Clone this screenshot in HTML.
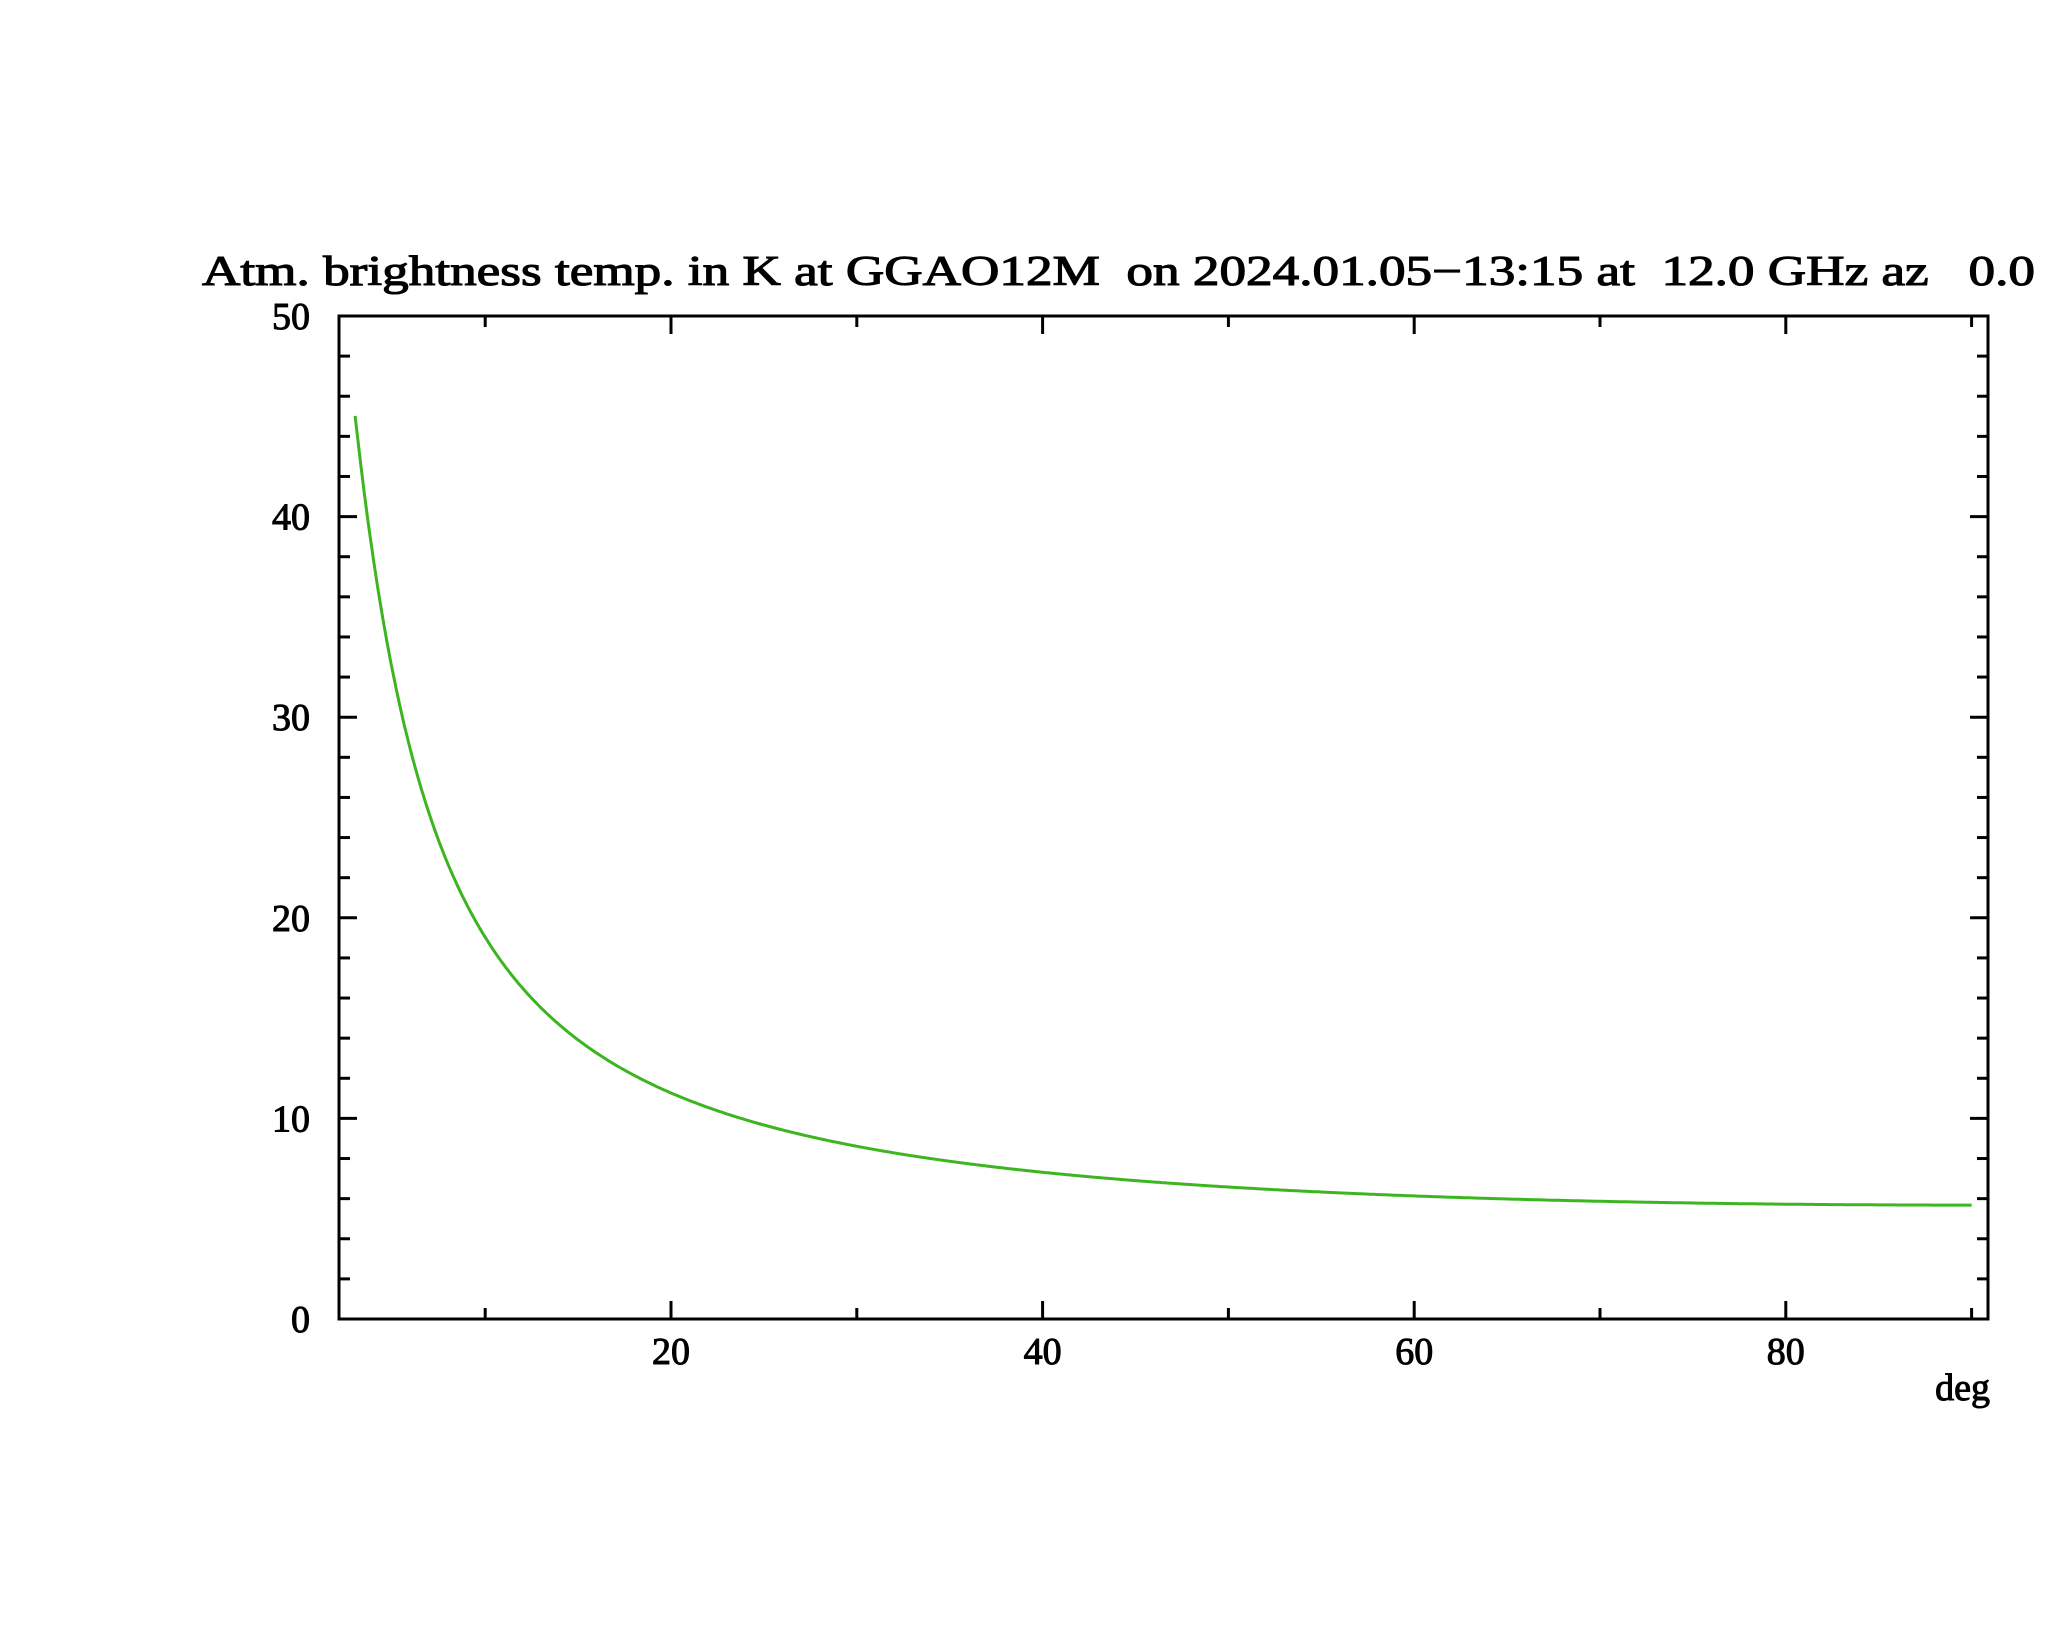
<!DOCTYPE html>
<html><head><meta charset="utf-8"><style>
html,body{margin:0;padding:0;background:#fff;}
svg{display:block;}
text{font-family:"Liberation Serif",serif;fill:#000;stroke:#000;stroke-width:1;}
</style></head><body>
<svg id="s" width="2048" height="1635" viewBox="0 0 2048 1635" xmlns="http://www.w3.org/2000/svg">
<text x="202" y="285" font-size="42" textLength="1833" lengthAdjust="spacingAndGlyphs" style="white-space:pre;stroke-width:1.1" xml:space="preserve">Atm. brightness temp. in K at GGAO12M  on 2024.01.05−13:15 at  12.0 GHz az   0.0</text>
<rect x="339" y="316" width="1649" height="1003" fill="none" stroke="#000" stroke-width="3"/>
<g id="ticks" stroke="#000" stroke-width="3"></g>
<g id="labels" font-size="38"></g>
<text x="1990" y="1400" font-size="38" text-anchor="end">deg</text>
<path id="curve" fill="none" stroke="#3cb521" stroke-width="3"/>
</svg>
<script>
var NS="http://www.w3.org/2000/svg";
var L=339,R=1988,T=316,B=1319;
function X(d){return 671+(d-20)*18.58;}
function Y(v){return B-(v)*20.06;}
var tg=document.getElementById('ticks'),lg=document.getElementById('labels');
function line(x1,y1,x2,y2){var l=document.createElementNS(NS,'line');l.setAttribute('x1',x1);l.setAttribute('y1',y1);l.setAttribute('x2',x2);l.setAttribute('y2',y2);tg.appendChild(l);}
function txt(x,y,s,a){var t=document.createElementNS(NS,'text');t.setAttribute('x',x);t.setAttribute('y',y);t.setAttribute('text-anchor',a);t.textContent=s;lg.appendChild(t);}
for(var d=10;d<=90;d+=10){var x=X(d),len=(d%20==0)?18:11;line(x,B,x,B-len);line(x,T,x,T+len);if(d%20==0)txt(x,1364,String(d),'middle');}
for(var v=0;v<=50;v+=2){var y=Y(v),len=(v%10==0)?18:11;line(L,y,L+len,y);line(R,y,R-len,y);if(v%10==0)txt(310,y+13,String(v),'end');}
var p='';
for(var e=3.0;e<=90.001;e+=0.1){var s=Math.sin(e*Math.PI/180);var am=1/Math.sqrt(s*s+0.0015);var t=2.7+270*(1-Math.exp(-0.0111*am));p+=(p?'L':'M')+X(e).toFixed(1)+','+Y(t).toFixed(1);}
document.getElementById('curve').setAttribute('d',p);
</script>
</body></html>
